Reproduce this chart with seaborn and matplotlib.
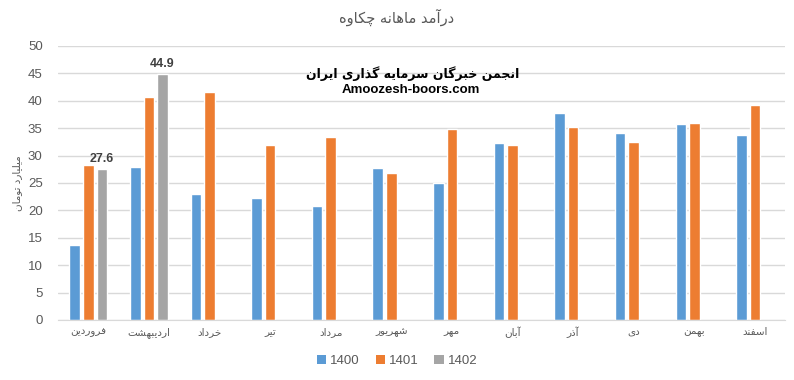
import numpy as np
import pandas as pd
import seaborn as sns
import matplotlib
matplotlib.use('Agg')
import matplotlib.pyplot as plt
from matplotlib.patches import Patch

# داده‌ها (میلیارد تومان)
months = ['فروردین', 'اردیبهشت', 'خرداد', 'تیر', 'مرداد', 'شهریور',
          'مهر', 'آبان', 'آذر', 'دی', 'بهمن', 'اسفند']
years = ['1400', '1401', '1402']
v1400 = [13.7, 27.9, 23.0, 22.2, 20.8, 27.7, 25.0, 32.3, 37.8, 34.2, 35.8, 33.8]
v1401 = [28.3, 40.6, 41.6, 32.0, 33.3, 26.8, 34.9, 32.0, 35.3, 32.5, 36.0, 39.3]
v1402 = [27.6, 44.9]
colors = ['#5B9BD5', '#ED7D31', '#A5A5A5']

title = 'درآمد ماهانه چکاوه'
ylabel = 'میلیارد تومان'
mark1 = 'انجمن خبرگان سرمایه گذاری ایران'
mark2 = 'Amoozesh-boors.com'

# شکل‌دهی ساده حروف فارسی (matplotlib خودش اتصال حروف را انجام نمی‌دهد)
FORMS = {
    'ا': ('\uFE8D', '\uFE8E', None, None),
    'آ': ('\uFE81', '\uFE82', None, None),
    'ب': ('\uFE8F', '\uFE90', '\uFE91', '\uFE92'),
    'پ': ('\uFB56', '\uFB57', '\uFB58', '\uFB59'),
    'ت': ('\uFE95', '\uFE96', '\uFE97', '\uFE98'),
    'ج': ('\uFE9D', '\uFE9E', '\uFE9F', '\uFEA0'),
    'چ': ('\uFB7A', '\uFB7B', '\uFB7C', '\uFB7D'),
    'خ': ('\uFEA5', '\uFEA6', '\uFEA7', '\uFEA8'),
    'د': ('\uFEA9', '\uFEAA', None, None),
    'ذ': ('\uFEAB', '\uFEAC', None, None),
    'ر': ('\uFEAD', '\uFEAE', None, None),
    'ز': ('\uFEAF', '\uFEB0', None, None),
    'س': ('\uFEB1', '\uFEB2', '\uFEB3', '\uFEB4'),
    'ش': ('\uFEB5', '\uFEB6', '\uFEB7', '\uFEB8'),
    'ف': ('\uFED1', '\uFED2', '\uFED3', '\uFED4'),
    'ک': ('\uFB8E', '\uFB8F', '\uFB90', '\uFB91'),
    'گ': ('\uFB92', '\uFB93', '\uFB94', '\uFB95'),
    'ل': ('\uFEDD', '\uFEDE', '\uFEDF', '\uFEE0'),
    'م': ('\uFEE1', '\uFEE2', '\uFEE3', '\uFEE4'),
    'ن': ('\uFEE5', '\uFEE6', '\uFEE7', '\uFEE8'),
    'و': ('\uFEED', '\uFEEE', None, None),
    'ه': ('\uFEE9', '\uFEEA', '\uFEEB', '\uFEEC'),
    'ی': ('\uFBFC', '\uFBFD', '\uFBFE', '\uFBFF'),
}


def fa(text):
    out = []
    for i, ch in enumerate(text):
        if ch not in FORMS:
            out.append(ch)
            continue
        prev = text[i - 1] if i > 0 else ''
        nxt = text[i + 1] if i < len(text) - 1 else ''
        join_prev = prev in FORMS and FORMS[prev][2] is not None
        join_next = nxt in FORMS and FORMS[ch][2] is not None
        iso, fin, ini, med = FORMS[ch]
        if join_prev and join_next:
            out.append(med)
        elif join_prev:
            out.append(fin)
        elif join_next:
            out.append(ini)
        else:
            out.append(iso)
    return ''.join(out)[::-1]


rows = []
for i, m in enumerate(months):
    rows.append((m, '1400', v1400[i]))
    rows.append((m, '1401', v1401[i]))
    if i < len(v1402):
        rows.append((m, '1402', v1402[i]))
df = pd.DataFrame(rows, columns=['month', 'year', 'value'])

sns.set_style('white')
plt.rcParams['font.family'] = ['DejaVu Sans']

fig = plt.figure(figsize=(7.94, 3.80), dpi=100)
ax = fig.add_axes([0.073, 0.158, 0.916, 0.721])

sns.barplot(data=df, x='month', y='value', hue='year', order=months,
            hue_order=years, palette=colors, width=0.67, gap=0.22,
            errorbar=None, legend=False, saturation=1, ax=ax)

ax.set_ylim(0, 50)
ax.set_yticks(range(0, 51, 5))
ax.yaxis.grid(True, color='#D9D9D9', linewidth=1)
ax.set_axisbelow(True)
for s in ['top', 'right', 'left']:
    ax.spines[s].set_visible(False)
ax.spines['bottom'].set_color('#D9D9D9')
ax.tick_params(length=0)
ax.tick_params(axis='y', pad=11, labelsize=9.5, labelcolor='#595959')
ax.tick_params(axis='x', pad=5, labelsize=7.5, labelcolor='#595959')
for lab in ax.get_yticklabels():
    lab.set_fontfamily('Liberation Sans')
ax.set_xticks(range(len(months)))
ax.set_xticklabels([fa(m) for m in months])
ax.set_xlabel('')
ax.set_ylabel(fa(ylabel), fontsize=7.5, color='#595959')
ax.yaxis.set_label_coords(-0.049, 0.5)

# برچسب داده برای ۱۴۰۲
ax.bar_label(ax.containers[2], fmt='%.1f', padding=3, fontsize=9,
             fontweight='bold', color='#404040', family='Liberation Sans')

fig.text(0.5, 0.955, fa(title), ha='center', va='center', fontsize=10.5,
         color='#595959')
fig.text(0.52, 0.806, fa(mark1), ha='center', va='center', fontsize=9,
         fontweight='bold', color='black')
fig.text(0.517, 0.762, mark2, ha='center', va='center', fontsize=9.5,
         fontweight='bold', color='black', family='Liberation Sans')

handles = [Patch(facecolor=c, edgecolor='none') for c in colors]
fig.legend(handles, years, loc='center', bbox_to_anchor=(0.5, 0.05),
           ncol=3, frameon=False, handlelength=0.7, handleheight=0.7,
           handletextpad=0.3, columnspacing=1.2,
           prop={'family': 'Liberation Sans', 'size': 9.5})
for t in fig.legends[0].get_texts():
    t.set_color('#595959')

fig.savefig('out.png', dpi=100)
